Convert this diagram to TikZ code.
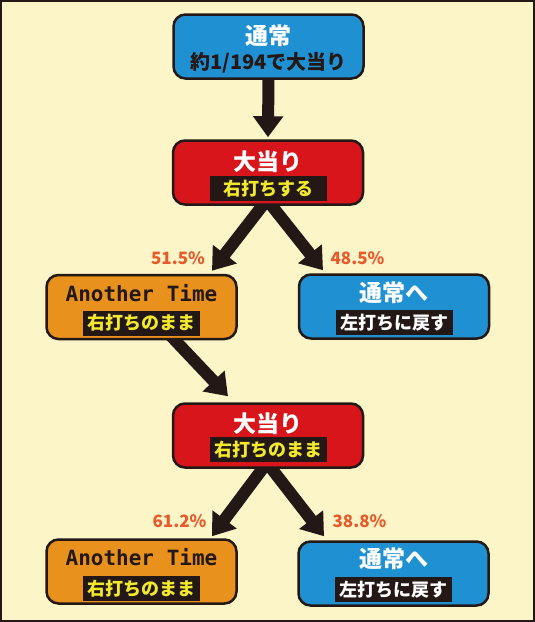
\documentclass[tikz,border=0pt]{standalone}
\usepackage{fontspec}
\setmainfont{Noto Sans CJK JP}
\newfontfamily\monofont{DejaVu Sans Mono}
\usetikzlibrary{arrows.meta}
\definecolor{cream}{HTML}{FBF5C8}
\definecolor{dark}{HTML}{231815}
\definecolor{sky}{HTML}{1F91D3}
\definecolor{rouge}{HTML}{D7151B}
\definecolor{amber}{HTML}{E8921D}
\definecolor{lemon}{HTML}{F2E82C}
\definecolor{pct}{HTML}{E85A2B}
\pgfdeclarelayer{back}
\pgfdeclarelayer{arrows}
\pgfsetlayers{back,arrows,main}
\tikzset{
  box/.style={draw=dark, line width=2.5pt, rounded corners=12pt,
    minimum width=190pt, minimum height=64pt, inner sep=0pt},
  title/.style={text=white, inner sep=0pt,
    font=\bfseries\fontsize{23}{23}\selectfont},
  engtitle/.style={text=dark, inner sep=0pt,
    font=\monofont\bfseries\fontsize{21}{21}\selectfont},
  tag/.style={fill=dark, minimum width=117pt, minimum height=25pt,
    inner sep=0pt, font=\bfseries\fontsize{18}{18}\selectfont},
  pctlabel/.style={text=pct, inner sep=0pt,
    font=\bfseries\fontsize{17}{17}\selectfont},
  bigarrow/.style={line width=12pt, draw=dark,
    -{Triangle[width=29pt,length=21pt]}}
}
\begin{document}
\begin{tikzpicture}[x=1pt, y=-1pt]

\useasboundingbox (0,0) rectangle (535,622);
\begin{pgfonlayer}{back}
\fill[cream] (0,0) rectangle (535,622);
\draw[dark, line width=2pt] (1,1) rectangle (534,621);
\end{pgfonlayer}

% boxes
\node[box, fill=sky] (normal) at (268.5,46.5) {};
\node[box, fill=rouge] (hit1) at (268,172.5) {};
\node[box, fill=amber] (at1) at (141.5,307) {};
\node[box, fill=sky] (back1) at (394,306.5) {};
\node[box, fill=rouge] (hit2) at (268,435.5) {};
\node[box, fill=amber] (at2) at (141.5,571.5) {};
\node[box, fill=sky] (back2) at (393.5,573.5) {};

% texts
\node[title] at ([yshift=11pt]normal.center) {通常};
\node[title, text=dark, font=\bfseries\fontsize{20}{20}\selectfont]
  at ([yshift=-16pt]normal.center) {約1/194で大当り};
\node[title] at ([yshift=11pt]hit1.center) {大当り};
\node[tag, text=lemon] at ([yshift=-16pt]hit1.center) {右打ちする};
\node[engtitle] at ([yshift=14pt]at1.center) {Another Time};
\node[tag, text=lemon] at ([yshift=-16pt]at1.center) {右打ちのまま};
\node[title] at ([yshift=14pt]back1.center) {通常へ};
\node[tag, text=white] at ([yshift=-16pt]back1.center) {左打ちに戻す};
\node[title] at ([yshift=12pt]hit2.center) {大当り};
\node[tag, text=lemon] at ([yshift=-14pt]hit2.center) {右打ちのまま};
\node[engtitle] at ([yshift=14pt]at2.center) {Another Time};
\node[tag, text=lemon] at ([yshift=-17pt]at2.center) {右打ちのまま};
\node[title] at ([yshift=15pt]back2.center) {通常へ};
\node[tag, text=white] at ([yshift=-16pt]back2.center) {左打ちに戻す};

% percentages
\node[pctlabel] (p1) at (178,258) {51.5\%};
\node[pctlabel] (p2) at (357.5,258) {48.5\%};
\node[pctlabel] (p3) at (179.5,521.5) {61.2\%};
\node[pctlabel] (p4) at (359.5,521.5) {38.8\%};

% arrows
\begin{pgfonlayer}{arrows}
\draw[bigarrow] ([yshift=8pt]normal.south) -- ([yshift=2pt]hit1.north);
\draw[bigarrow] ([xshift=-1pt,yshift=6pt]hit1.south) -- ([xshift=70.5pt,yshift=3pt]at1.north);
\draw[bigarrow] ([xshift=-1pt,yshift=6pt]hit1.south) -- ([xshift=-71pt,yshift=3pt]back1.north);
\draw[bigarrow] ([xshift=24pt,yshift=10pt]at1.south) -- ([xshift=-40pt,yshift=6pt]hit2.north);
\draw[bigarrow] ([xshift=-1pt,yshift=6pt]hit2.south) -- ([xshift=70.5pt,yshift=2pt]at2.north);
\draw[bigarrow] ([xshift=-1pt,yshift=6pt]hit2.south) -- ([xshift=-69.5pt,yshift=4pt]back2.north);
\end{pgfonlayer}

\end{tikzpicture}
\end{document}
